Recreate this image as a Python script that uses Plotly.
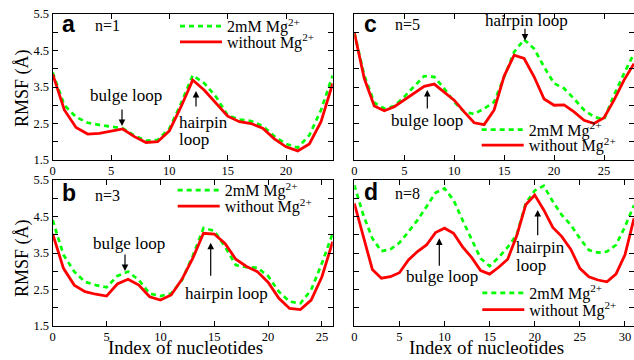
import plotly.graph_objects as go

W, H = 634, 360

# ---------------- data ----------------
idx_a = list(range(0, 25))
mg_a = [3.90, 3.00, 2.68, 2.52, 2.46, 2.41, 2.37, 2.17, 2.03, 2.05, 2.36, 3.05, 3.82, 3.60, 3.23,
        2.72, 2.61, 2.57, 2.43, 2.15, 1.94, 1.84, 2.18, 2.87, 3.82]
no_a = [3.85, 2.87, 2.39, 2.21, 2.23, 2.30, 2.35, 2.14, 1.98, 2.00, 2.30, 2.96, 3.69, 3.41, 3.05,
        2.70, 2.55, 2.50, 2.37, 2.08, 1.86, 1.75, 1.94, 2.55, 3.60]

idx_b = list(range(0, 27))
mg_b = [4.40, 3.45, 2.99, 2.71, 2.62, 2.56, 2.87, 2.99, 2.76, 2.39, 2.32, 2.39, 2.75, 3.42, 4.18,
        4.11, 3.67, 3.17, 3.11, 3.10, 2.87, 2.44, 2.17, 2.12, 2.49, 3.22, 4.04]
no_b = [4.02, 3.08, 2.62, 2.44, 2.37, 2.32, 2.65, 2.78, 2.62, 2.30, 2.21, 2.35, 2.78, 3.35, 4.04,
        4.02, 3.76, 3.33, 3.13, 2.99, 2.70, 2.26, 1.98, 1.95, 2.21, 2.85, 3.81]

idx_c = list(range(0, 29))
mg_c = [4.99, 3.82, 3.07, 2.91, 2.98, 3.23, 3.52, 3.80, 3.78, 3.46, 3.09, 2.82, 2.76, 2.91, 3.09,
        3.75, 4.46, 4.80, 4.55, 4.05, 3.60, 3.46, 3.18, 2.87, 2.68, 2.61, 3.28, 3.87, 4.42]
no_c = [4.99, 3.73, 2.98, 2.85, 2.96, 3.14, 3.32, 3.52, 3.58, 3.37, 3.14, 2.82, 2.52, 2.47, 2.87,
        3.80, 4.37, 4.28, 3.78, 3.17, 3.00, 3.01, 2.82, 2.59, 2.50, 2.66, 3.14, 3.69, 4.14]

idx_d = list(range(0, 32))
mg_d = [5.36, 4.54, 3.90, 3.55, 3.60, 3.78, 4.08, 4.40, 4.77, 5.15, 5.27, 4.95, 4.40, 3.86, 3.35,
        3.14, 3.38, 3.66, 4.00, 4.86, 5.21, 5.34, 4.91, 4.54, 4.27, 3.90, 3.58, 3.51, 3.54, 3.72,
        4.22, 4.81]
no_d = [4.86, 3.95, 3.05, 2.81, 2.85, 2.96, 3.31, 3.54, 3.72, 4.06, 4.18, 4.04, 3.67, 3.38, 3.02,
        2.92, 3.11, 3.33, 3.97, 4.82, 5.09, 4.68, 4.20, 3.95, 3.60, 3.08, 2.85, 2.76, 2.71, 2.92,
        3.45, 4.45]

panels = [
    dict(key="a", n="n=1", x=idx_a, mg=mg_a, no=no_a, xmax=24),
    dict(key="b", n="n=3", x=idx_b, mg=mg_b, no=no_b, xmax=26),
    dict(key="c", n="n=5", x=idx_c, mg=mg_c, no=no_c, xmax=28),
    dict(key="d", n="n=8", x=idx_d, mg=mg_d, no=no_d, xmax=31),
]
name_mg = "2mM Mg<sup>2+</sup>"
name_no = "without Mg<sup>2+</sup>"
y_ticks = [1.5, 2.0, 2.5, 3.0, 3.5, 4.0, 4.5, 5.0, 5.5]
y_text = ["1.5", "", "2.5", "", "3.5", "", "4.5", "", "5.5"]
x_ticks = [0, 5, 10, 15, 20, 25, 30]

# ---------------- layout helpers ----------------
SERIF = "'Liberation Serif', 'Times New Roman', Times, 'DejaVu Serif', serif"
SANS = "'Liberation Sans', Arial, Helvetica, sans-serif"
GREEN = "#00ff00"
RED = "#ff0000"

def px(x, y):
    return x / W, 1 - y / H

# panel boxes in pixels: (left, right, top, bottom)
boxes = [(52.7, 332.7, 14.0, 160.0), (52.7, 332.7, 180.0, 326.0),
         (354.3, 634.0, 14.0, 160.0), (354.3, 634.0, 180.0, 326.0)]

fig = go.Figure()
layout = dict(template="none", width=W, height=H,
              margin=dict(l=0, r=0, t=0, b=0, pad=0, autoexpand=False),
              paper_bgcolor="white", plot_bgcolor="white", showlegend=True)

# legend item positions: (text_left, green_y, red_y)
leg_pos = [(225, 29.3, 45.0), (222.7, 193.3, 209.3), (526.7, 132.7, 148.3), (527.3, 296.0, 312.7)]

for i, p in enumerate(panels):
    k = "" if i == 0 else str(i + 1)
    l, r, t, b = boxes[i]
    lg1 = "legend" if i == 0 else "legend%d" % (2 * i + 1)
    lg2 = "legend%d" % (2 * i + 2)
    fig.add_trace(go.Scatter(x=p["x"], y=p["mg"], mode="lines", name=name_mg,
                             line=dict(color=GREEN, width=2.7, dash="5px,4px"),
                             xaxis="x" + k, yaxis="y" + k, legend=lg1))
    fig.add_trace(go.Scatter(x=p["x"], y=p["no"], mode="lines", name=name_no,
                             line=dict(color=RED, width=2.8),
                             xaxis="x" + k, yaxis="y" + k, legend=lg2))
    axcommon = dict(showline=True, linecolor="black", linewidth=1.3, mirror="ticks",
                    ticks="inside", ticklen=5, tickwidth=1, tickcolor="black",
                    showgrid=False, zeroline=False, automargin=False,
                    tickfont=dict(family=SERIF, size=12.5, color="black"))
    layout["xaxis" + k] = dict(axcommon, domain=[l / W, r / W], range=[0, p["xmax"]],
                               tickvals=x_ticks, anchor="y" + k, ticklabelstandoff=-1)
    layout["yaxis" + k] = dict(axcommon, domain=[1 - b / H, 1 - t / H], range=[1.5, 5.5],
                               tickvals=y_ticks, ticktext=y_text, anchor="x" + k,
                               showticklabels=(i < 2))
    tx, gy, ry = leg_pos[i]
    for lg, yy in ((lg1, gy), (lg2, ry)):
        lx, ly = px(tx - 50, yy - 20)
        layout[lg] = dict(x=lx, y=ly, xanchor="left", yanchor="top", itemwidth=42,
                          bgcolor="rgba(0,0,0,0)", borderwidth=0,
                          font=dict(family=SERIF, size=16, color="black"))

fig.update_layout(**layout)

ann = []
def text(s, x, y, size=17, fam=SERIF, xanchor="center", bold=False):
    ax_, ay_ = px(x, y)
    ann.append(dict(text=("<b>%s</b>" % s) if bold else s, x=ax_, y=ay_, xref="paper", yref="paper",
                    xanchor=xanchor, yanchor="middle", showarrow=False,
                    font=dict(family=fam, size=size, color="black")))

def arrow(hx, hy, tx_, ty_):
    ax_, ay_ = px(hx, hy)
    ann.append(dict(text="", x=ax_, y=ay_, xref="paper", yref="paper", showarrow=True,
                    ax=tx_ - hx, ay=ty_ - hy, arrowhead=2, arrowsize=1.1, arrowwidth=1.2,
                    arrowcolor="black", standoff=0, startstandoff=0))

# panel letters and n labels
for (lab, cx, cy) in [("a", 68.5, 24), ("b", 68.5, 192.5), ("c", 370.8, 24), ("d", 370.8, 192)]:
    text(lab, cx, cy, size=23, fam=SANS, bold=True)
for (lab, lx, cy) in [("n=1", 93, 26), ("n=3", 93, 195), ("n=5", 393.3, 24.4), ("n=8", 393.3, 193.7)]:
    text(lab, lx, cy, size=16, xanchor="left")

# panel a
text("bulge loop", 125.5, 95.5)
arrow(122, 126, 122, 108)
text("hairpin", 177, 122.3, xanchor="left")
text("loop", 177, 139.7, xanchor="left")
arrow(196, 91, 196, 108)
# panel b
text("bulge loop", 128.7, 243.5)
arrow(125, 271, 125, 253)
text("hairpin loop", 226.7, 293.5)
arrow(210.7, 242.7, 210.7, 277.3)
# panel c
text("hairpin loop", 526.7, 20)
arrow(525, 40.7, 525, 27.3)
text("bulge loop", 427.2, 120.7)
arrow(427.3, 90, 427.3, 110)
# panel d
text("bulge loop", 441.7, 276.7)
arrow(439.3, 238.3, 439.3, 267.3)
text("hairpin", 514, 247.3, xanchor="left")
text("loop", 514, 265.7, xanchor="left")
arrow(537.7, 210, 537.7, 236.7)

# axis titles
ann.append(dict(text="RMSF (Å)", x=22 / W, y=1 - 88 / H, xref="paper", yref="paper",
                textangle=-90, showarrow=False, xanchor="center", yanchor="middle",
                font=dict(family=SERIF, size=18, color="black")))
ann.append(dict(text="RMSF (Å)", x=22 / W, y=1 - 258 / H, xref="paper", yref="paper",
                textangle=-90, showarrow=False, xanchor="center", yanchor="middle",
                font=dict(family=SERIF, size=18, color="black")))
for cx in (185, 486):
    ann.append(dict(text="Index of nucleotides", x=cx / W, y=1 - 347 / H, xref="paper", yref="paper",
                    showarrow=False, xanchor="center", yanchor="middle",
                    font=dict(family=SERIF, size=19, color="black")))

fig.update_layout(annotations=ann)
fig.write_html("out.html", config={"displayModeBar": False},
               post_script="document.body.style.margin='0px';document.body.style.overflow='hidden';")
